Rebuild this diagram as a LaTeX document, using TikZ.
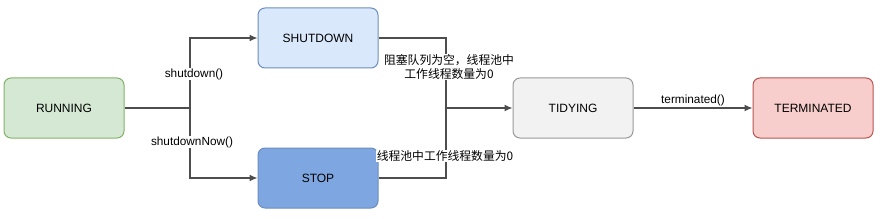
\documentclass[tikz,border=0pt]{standalone}
\usepackage{fontspec}
\setmainfont{Liberation Sans}
\newfontfamily\cjk{Noto Sans CJK SC}
\usepackage{tikz}
\usetikzlibrary{arrows.meta}
\usetikzlibrary{positioning}
\usetikzlibrary{calc}
\definecolor{runfill}{HTML}{D5E8D4}
\definecolor{rundraw}{HTML}{82B366}
\definecolor{shutfill}{HTML}{DAE8FC}
\definecolor{bluedraw}{HTML}{6C8EBF}
\definecolor{stopfill}{HTML}{7EA6E0}
\definecolor{tidyfill}{HTML}{F2F2F2}
\definecolor{tidydraw}{HTML}{999999}
\definecolor{termfill}{HTML}{F8CECC}
\definecolor{termdraw}{HTML}{B85450}
\definecolor{linegray}{HTML}{4D4D4D}
\tikzset{
stbox/.style = {rectangle, rounded corners=7pt, line width=1pt,
                minimum width=120pt, minimum height=60pt,
                font=\fontsize{12pt}{14pt}\selectfont},
flow/.style = {draw=linegray, line width=1.2pt},
arr/.style = {flow, -{Latex[length=8pt,width=7pt]}},
lbl/.style = {fill=white, inner sep=1pt, font=\fontsize{11.8pt}{14pt}\selectfont}
}
\newcommand{\stnode}[5]{\node[stbox, fill=#3, draw=#4] (#1) at (#2) {#5};}

\begin{document}
\begin{tikzpicture}[x=1pt,y=-1pt]
        \useasboundingbox (0,0) rectangle (880,219);
        \stnode{running}{64,108}{runfill}{rundraw}{RUNNING}
        \stnode{shutdown}{318,38}{shutfill}{bluedraw}{SHUTDOWN}
        \stnode{stop}{318,178}{stopfill}{bluedraw}{STOP}
        \stnode{tidying}{573,108}{tidyfill}{tidydraw}{TIDYING}
        \stnode{terminated}{813,108}{termfill}{termdraw}{TERMINATED}
        \coordinate (lj) at (190,108);
        \coordinate (rj) at (446,108);
        \draw[flow] (running) -- (lj);
        \draw[arr] (lj) |- (shutdown);
        \draw[arr] (lj) |- (stop);
        \draw[flow] (shutdown) -| (rj);
        \draw[flow] (stop) -| (rj);
        \draw[arr] (rj) -- (tidying);
        \draw[arr] (tidying) -- (terminated);
        \node[lbl] (l1) at (194,74) {shutdown()};
        \node[lbl] (l2) at (192,142) {shutdownNow()};
        \node[lbl, align=center] (l3) at (449,67) {\cjk 阻塞队列为空，线程池中\\\cjk 工作线程数量为0};
        \node[lbl] (l4) at (445,156) {\cjk 线程池中工作线程数量为0};
        \node[lbl, fill=none] (l5) at (693,100) {terminated()};
\end{tikzpicture}
\end{document}
